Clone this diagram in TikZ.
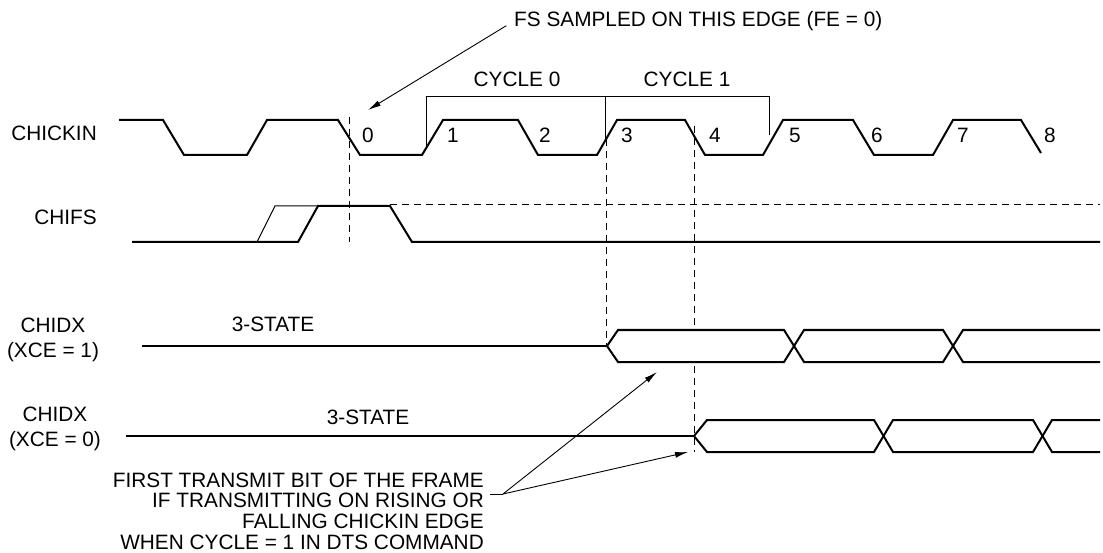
\documentclass[tikz,border=0pt]{standalone}
\usepackage{fontspec}
\setmainfont{Liberation Sans}
\usetikzlibrary{arrows.meta}

\begin{document}
\begin{tikzpicture}[x=1pt,y=-1pt,
    wave/.style={line width=2pt},
    guide/.style={line width=1pt,dash pattern=on 7pt off 5pt},
    pointer/.style={line width=0.9pt,-{Latex[length=13pt,width=6pt]}},
    lbl/.style={inner sep=0pt,font=\fontsize{20.8}{20.7}\selectfont}]
  \useasboundingbox (0,0) rectangle (1103,553);
  % signal names
  \node[lbl,anchor=east] (chickin) at (97,133) {CHICKIN};
  \node[lbl,anchor=east] (chifs) at (97,217) {CHIFS};
  \node[lbl,align=center] (chidxa) at (53,340) {CHIDX\\[4pt](XCE = 1)};
  \node[lbl,align=center] (chidxb) at (55,429) {CHIDX\\[4pt](XCE = 0)};
  % CHICKIN clock
  \draw[wave] (119,120)--(163,120)--(184,155)--(247,155)--(267,120)--(338,120)
    --(360,155)--(422,155)--(443,120)--(518,120)--(538,155)--(597,155)
    --(617,120)--(685,120)--(705,155)--(763,155)--(783,120)--(853,120)
    --(874,155)--(933,155)--(953,120)--(1021,120)--(1041,153);
  \foreach \n/\xpos in {0/368,1/453,2/545,3/627,4/715,5/795,6/877,7/963,8/1050}
    \node[lbl] (edge\n) at (\xpos,135) {\n};
  % cycle brackets
  \draw[line width=1pt] (426,147)--(426,97)--(769,97)--(769,135);
  \draw[line width=1pt] (605,97)--(605,139);
  \node[lbl] (cyclea) at (517,79) {CYCLE 0};
  \node[lbl] (cycleb) at (687,79) {CYCLE 1};
  % CHIFS
  \draw[line width=1pt] (257,242)--(275,206)--(318,206);
  \draw[wave] (132,242)--(298,242)--(318,206)--(390,206)--(412,242)--(1100,242);
  \draw[guide] (390,205)--(1100,205);
  % CHIDX, XCE = 1
  \draw[wave] (142,346)--(607,346);
  \draw[wave] (607,346)--(618,330)--(784,330)--(804,362)--(943,362)--(963,330)--(1100,330);
  \draw[wave] (607,346)--(618,362)--(784,362)--(804,330)--(943,330)--(963,362)--(1100,362);
  \node[lbl] (tristatea) at (273,324) {3-STATE};
  % CHIDX, XCE = 0
  \draw[wave] (126,436)--(694,436);
  \draw[wave] (694,436)--(707,420)--(874,420)--(893,452)--(1033,452)--(1052,420)--(1100,420);
  \draw[wave] (694,436)--(707,452)--(874,452)--(893,420)--(1033,420)--(1052,452)--(1100,452);
  \node[lbl] (tristateb) at (368,417) {3-STATE};
  % timing guides
  \draw[guide] (349,117)--(349,242);
  \draw[guide] (606,139)--(606,346);
  \draw[guide] (694,126)--(694,326) (694,366)--(694,452);
  % annotations
  \node[lbl,anchor=west] (fsnote) at (514,21) {FS SAMPLED ON THIS EDGE (FE = 0)};
  \coordinate (fsedge) at (368,110);
  \draw[pointer,shorten <=9pt] (fsnote.west) -- (fsedge);
  \node[lbl,anchor=north east,align=right] (firstbit) at (484,472.5)
    {FIRST TRANSMIT BIT OF THE FRAME\\IF TRANSMITTING ON RISING OR\\
     FALLING CHICKIN EDGE\\WHEN CYCLE = 1 IN DTS COMMAND};
  \coordinate (notetail) at (490,494);
  \coordinate (notejoin) at (503,494);
  \coordinate (busa) at (657,372);
  \coordinate (busb) at (688,452);
  \draw[line width=0.9pt] (notetail) -- (notejoin);
  \draw[pointer] (notejoin) -- (busa);
  \draw[pointer] (notejoin) -- (busb);
\end{tikzpicture}
\end{document}
